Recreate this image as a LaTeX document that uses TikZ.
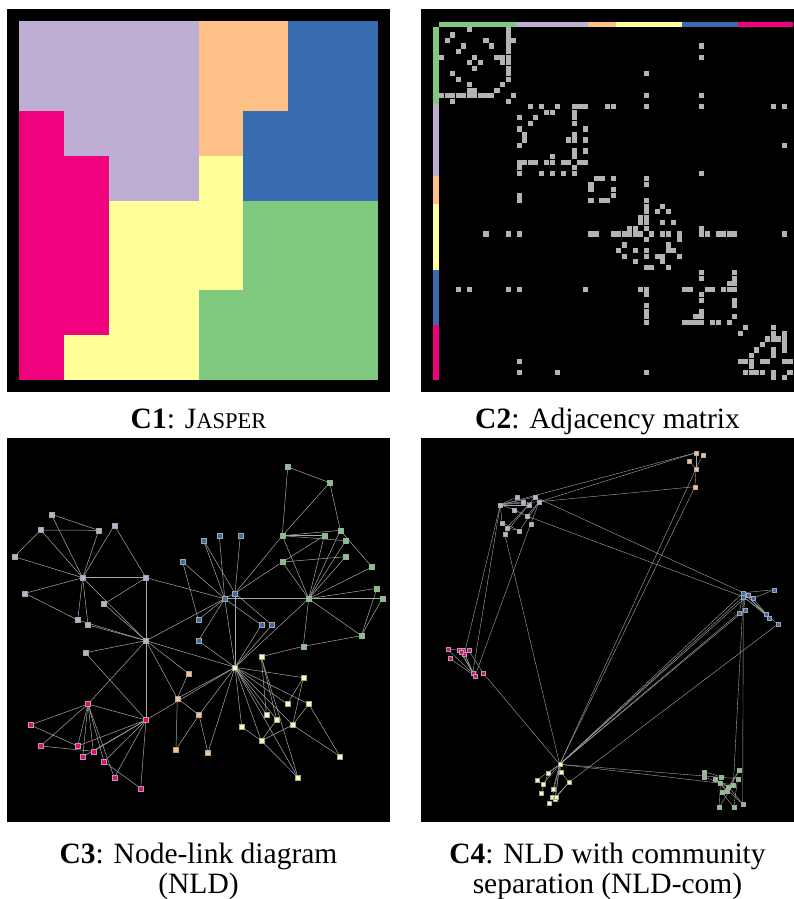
\documentclass[tikz,border=0pt]{standalone}
\usepackage{fontspec}
\setmainfont{Liberation Serif}
\pgfdeclarelayer{back}
\pgfdeclarelayer{edges}
\pgfsetlayers{back,edges,main}
\definecolor{cgreen}{HTML}{7FC97F}
\definecolor{clav}{HTML}{BEAED4}
\definecolor{corange}{HTML}{FDC086}
\definecolor{cyellow}{HTML}{FFFF99}
\definecolor{cblue}{HTML}{386CB0}
\definecolor{cmag}{HTML}{F0027F}
\definecolor{cmat}{HTML}{B3B3B3}
\definecolor{cedge}{HTML}{A8A8A8}
\newcommand{\capfont}{\fontsize{29.5}{30}\selectfont}
\begin{document}
\begin{tikzpicture}[x=1pt,y=-1pt,
  panel/.style={fill=black},
  nd/.style={rectangle,minimum size=5pt,inner sep=0pt,draw=black!35,line width=0.2pt},
  ndd/.style={rectangle,minimum size=4pt,inner sep=0pt,draw=black!35,line width=0.15pt},
  ethree/.style={draw=cedge,line width=0.5pt},
  efour/.style={draw=cedge,line width=0.4pt},
  captext/.style={anchor=base,align=center,font=\capfont,inner sep=0pt}]
\useasboundingbox (0,0) rectangle (794,899);
\begin{pgfonlayer}{back}
\fill[white] (0,0) rectangle (794,899);
% ---------- C1 ----------
\fill[panel] (7,9) rectangle (390,392);
\fill[clav] (19.3,21.3) rectangle (198.5,110.9);
\fill[clav] (64.1,110.9) rectangle (198.5,155.7);
\fill[clav] (108.9,155.7) rectangle (198.5,200.5);
\fill[corange] (198.5,21.3) rectangle (288.1,110.9);
\fill[corange] (198.5,110.9) rectangle (243.3,155.7);
\fill[cblue] (288.1,21.3) rectangle (377.7,110.9);
\fill[cblue] (243.3,110.9) rectangle (377.7,200.5);
\fill[cmag] (19.3,110.9) rectangle (64.1,155.7);
\fill[cmag] (19.3,155.7) rectangle (108.9,334.9);
\fill[cmag] (19.3,334.9) rectangle (64.1,379.7);
\fill[cyellow] (198.5,155.7) rectangle (243.3,200.5);
\fill[cyellow] (108.9,200.5) rectangle (243.3,290.1);
\fill[cyellow] (108.9,290.1) rectangle (198.5,334.9);
\fill[cyellow] (64.1,334.9) rectangle (198.5,379.7);
\fill[cgreen] (243.3,200.5) rectangle (377.7,290.1);
\fill[cgreen] (198.5,290.1) rectangle (377.7,379.7);
% ---------- C2 ----------
\fill[panel] (421,9) rectangle (794,392);
\fill[cgreen] (439,21.7) rectangle (516.4,26.7);
\fill[clav] (516.4,21.7) rectangle (588.2,26.7);
\fill[corange] (588.2,21.7) rectangle (615.9,26.7);
\fill[cyellow] (615.9,21.7) rectangle (682.2,26.7);
\fill[cblue] (682.2,21.7) rectangle (737.5,26.7);
\fill[cmag] (737.5,21.7) rectangle (792.7,26.7);
\fill[cgreen] (433.3,26.7) rectangle (439,104.1);
\fill[clav] (433.3,104.1) rectangle (439,175.9);
\fill[corange] (433.3,175.9) rectangle (439,203.6);
\fill[cyellow] (433.3,203.6) rectangle (439,269.9);
\fill[cblue] (433.3,269.9) rectangle (439,325.2);
\fill[cmag] (433.3,325.2) rectangle (439,380.4);
\foreach \i/\j in {0/5,1/2,2/8,3/9,3/4,5/6,6/7,0/12,1/12,2/12,3/12,4/12,5/12,6/12,7/12,8/12,9/12,2/13,12/13,5/10,5/11,6/11,10/11,
 3/47,5/47,8/37,12/37,12/47,
 14/16,14/18,14/21,14/24,14/25,14/26,15/19,15/20,15/24,16/17,16/24,17/24,18/26,19/24,20/23,20/24,20/26,22/24,22/26,23/24,24/25,24/26,
 14/30,14/31,14/37,14/47,14/60,14/62,21/62,26/47,
 27/28,27/29,27/31,29/31,30/31,27/37,28/37,31/37,
 32/37,32/40,33/37,33/39,33/41,34/36,34/37,35/36,35/37,35/40,35/42,36/37,37/38,37/40,37/41,37/43,38/43,39/41,40/41,40/42,41/43,
 36/47,37/47,37/48,37/50,37/51,37/52,37/53,37/62,
 44/47,44/53,45/47,45/53,46/52,46/53,47/48,47/49,47/51,47/52,47/53,49/53,50/53,52/53,
 54/55,54/60,55/60,55/62,56/59,56/60,56/61,56/62,57/58,57/62,58/60,58/62,59/60,60/62,60/63,62/63}{
  \fill[cmat] (439.2+5.527*\j,26.9+5.527*\i) rectangle ++(5.13,5.13);
  \fill[cmat] (439.2+5.527*\i,26.9+5.527*\j) rectangle ++(5.13,5.13);
}
% ---------- C3 / C4 panels ----------
\fill[panel] (7,438) rectangle (390,822);
\fill[panel] (421,438) rectangle (794,822);
\end{pgfonlayer}
% ---------- C3 nodes ----------
\foreach \n/\x/\y in {G1/287.7/467,G2/329.7/482.7,G3/282.3/535.7,G4/340.3/530.3,G5/324.3/535.7,G6/345.7/540.7,G7/282.3/562,G8/345.7/556.7,G9/372/567,G10/308.7/598.7,G11/377/588.3,G12/382.3/598.7,G13/361.3/635.7,G14/303.3/646.3}
  \node[nd,fill=cgreen] (\n) at (\x,\y) {};
\foreach \n/\x/\y in {L1/51.3/514.3,L2/40.7/530,L3/98.7/530.3,L4/114.3/525.3,L5/14.3/556.7,L6/82.7/577.7,L7/146/577.7,L8/25/593.3,L9/104/604,L10/77.7/620,L11/88/625,L12/146/640.7,L13/85.3/652.7}
  \node[nd,fill=clav] (\n) at (\x,\y) {};
\foreach \n/\x/\y in {O1/188.3/673.3,O2/177.3/698.3,O3/199/715,O4/176/749.3,O5/208/752.7}
  \node[nd,fill=corange] (\n) at (\x,\y) {};
\foreach \n/\x/\y in {Y1/235/667.3,Y2/261.3/656.7,Y3/303.3/677.7,Y4/287.3/704,Y5/308.7/704,Y6/266.3/714.3,Y7/276.7/719.7,Y8/292.7/725,Y9/241.7/726.7,Y10/261.3/740.7,Y11/340/756.3,Y12/298/777.7}
  \node[nd,fill=cyellow] (\n) at (\x,\y) {};
\foreach \n/\x/\y in {B1/203.7/540.7,B2/219.3/535.7,B3/240.3/535.7,B4/182.7/562,B5/224.7/598.7,B6/235/593.3,B7/198.3/619.7,B8/261.3/625,B9/272/625,B10/198.3/640.7}
  \node[nd,fill=cblue] (\n) at (\x,\y) {};
\foreach \n/\x/\y in {M1/88/704,M2/146/720,M3/30.3/725,M4/40.7/746,M5/77.7/746,M6/93.3/751.3,M7/82.7/756.7,M8/104/761.7,M9/114.3/777.7,M10/140.7/788.3}
  \node[nd,fill=cmag] (\n) at (\x,\y) {};
\begin{pgfonlayer}{edges}
\foreach \a/\b in {G1/G2,G1/G3,G2/G3,G2/G4,G3/G4,G3/G5,G3/G6,G3/G10,G3/B6,G4/G9,G4/G10,G5/G7,G5/G10,G6/G10,G7/G8,G7/G10,G7/B6,G8/G10,G9/G10,G11/G10,G10/G12,G11/G13,G12/G13,G13/G10,G13/G14,G14/G10,G10/B5,G10/Y1,G14/Y2,
 L1/L3,L1/L6,L2/L3,L2/L5,L2/L6,L3/L6,L4/L6,L4/L7,L5/L6,L6/L7,L6/L8,L6/L10,L6/L11,L6/L12,L7/L9,L7/L12,L7/B5,L8/L10,L9/L12,L10/L12,L11/L12,L12/L13,L13/M2,L12/B5,L12/Y1,L12/O1,L12/O2,L12/M1,L12/M2,
 O1/O2,O2/O3,O2/O4,O3/O4,O3/O5,O2/Y1,O3/Y1,O5/Y1,
 Y1/Y3,Y1/Y4,Y1/Y5,Y1/Y6,Y1/Y7,Y1/Y8,Y1/Y9,Y1/Y10,Y1/Y12,Y2/Y6,Y2/Y7,Y2/Y12,Y3/Y4,Y3/Y8,Y5/Y8,Y5/Y11,Y8/Y10,Y8/Y11,Y9/Y10,Y10/Y12,Y7/Y10,Y1/M2,
 B1/B5,B1/B6,B2/B5,B3/B6,B4/B5,B4/B7,B5/B6,B5/B7,B5/B10,B5/B8,B6/B9,B5/Y1,B6/Y1,B8/Y1,B9/Y1,B10/Y1,
 M1/M3,M1/M4,M1/M5,M1/M6,M1/M7,M1/M8,M1/M9,M1/M2,M2/M5,M2/M6,M2/M7,M2/M8,M2/M9,M2/M10,M3/M5,M4/M6,M8/M10}
  \draw[ethree] (\a) -- (\b);
\end{pgfonlayer}
% ---------- C4 nodes ----------
\foreach \n/\x/\y in {dO1/696/452.7,dO2/703/454.7,dO3/688.7/460.7,dO4/696/468.7,dO5/695/486.7}
  \node[ndd,fill=corange] (\n) at (\x,\y) {};
\foreach \n/\x/\y in {dL1/500.3/504.7,dL2/516.7/497,dL3/535/497,dL4/539.3/501.7,dL5/528.7/504.7,dL6/514/509.7,dL7/526.7/516,dL8/502/522.7,dL9/530.7/523.7,dL10/506.7/527.7,dL11/519.3/530.7,dL12/504.7/534,dL13/523.3/501.7}
  \node[ndd,fill=clav] (\n) at (\x,\y) {};
\foreach \n/\x/\y in {dB1/743.3/592.7,dB2/743.3/596.7,dB3/753.3/598.3,dB4/774/589.7,dB5/745.3/609.7,dB6/739.3/612.7,dB7/765.7/614,dB8/769.3/618,dB9/777.7/624.3,dB10/748.3/595}
  \node[ndd,fill=cblue] (\n) at (\x,\y) {};
\foreach \n/\x/\y in {dM1/447.7/649.3,dM2/459.3/650.3,dM3/463.3/650.3,dM4/468.7/650.3,dM5/464.3/654,dM6/449.7/658.3,dM7/472.7/673.3,dM8/475/676,dM9/483.3/673.3,dM10/461.3/652}
  \node[ndd,fill=cmag] (\n) at (\x,\y) {};
\foreach \n/\x/\y in {dY1/559.7/764.3,dY2/548.3/773.3,dY3/560.7/771.7,dY4/537.3/779.7,dY5/569/782.3,dY6/542.7/784.3,dY7/553/789.3,dY8/541/793.3,dY9/552.3/796.7,dY10/555/799,dY11/548.7/802.7,dY12/555.7/796.7}
  \node[ndd,fill=cyellow] (\n) at (\x,\y) {};
\foreach \n/\x/\y in {dG1/704/771.7,dG2/704/776.7,dG3/715/778.7,dG4/720.7/776.7,dG5/739.3/770.3,dG6/737.7/778.7,dG7/720/783.3,dG8/733.3/784.7,dG9/728.3/786.7,dG10/721.7/791.7,dG11/727.3/791.3,dG12/719.3/806.7,dG13/733.7/807.3,dG14/742.7/804}
  \node[ndd,fill=cgreen] (\n) at (\x,\y) {};
\begin{pgfonlayer}{edges}
\foreach \a/\b in {dL1/dO1,dL4/dO1,dL4/dO5,dO4/dY1,dO5/dY1,dL3/dB1,dL7/dB2,dL1/dM5,dL1/dM7,dL9/dM8,dL12/dY1,dM9/dY1,dY1/dB1,dY1/dB2,dY1/dB6,dY1/dB5,dY1/dB10,dY5/dB9,dY1/dG6,dY1/dG8,dB2/dG8,dB1/dG14,
 dO1/dO4,dO2/dO4,dO3/dO4,dO4/dO5,
 dL1/dL2,dL1/dL3,dL1/dL4,dL1/dL5,dL1/dL6,dL1/dL8,dL4/dL7,dL4/dL9,dL4/dL11,dL5/dL10,dL3/dL12,dL8/dL11,dL10/dL11,dL6/dL7,dL1/dL13,
 dB1/dB3,dB1/dB4,dB3/dB4,dB1/dB7,dB1/dB8,dB2/dB8,dB3/dB8,dB5/dB1,dB6/dB1,dB1/dB9,dB2/dB7,
 dM1/dM3,dM1/dM7,dM6/dM8,dM2/dM8,dM3/dM7,dM4/dM9,dM5/dM8,dM10/dM7,
 dY1/dY2,dY1/dY3,dY1/dY4,dY1/dY6,dY1/dY7,dY1/dY9,dY1/dY10,dY1/dY12,dY3/dY5,dY4/dY6,dY2/dY8,dY5/dY10,dY12/dY5,
 dG1/dG4,dG2/dG9,dG3/dG9,dG4/dG12,dG5/dG9,dG6/dG13,dG7/dG14,dG8/dG12,dG9/dG14,dG10/dG13,dG11/dG5,dG3/dG11,dG8/dG10}
  \draw[efour] (\a) -- (\b);
\end{pgfonlayer}
% ---------- captions ----------
\node[captext] (cap1) at (198.5,428) {\textbf{C1}: J{\fontsize{22.5}{22.5}\selectfont ASPER}};
\node[captext] (cap2) at (607.5,428) {\textbf{C2}: Adjacency matrix};
\node[captext] (cap3) at (198.5,893) {\textbf{C3}: Node-link diagram\\(NLD)};
\node[captext] (cap4) at (607.5,893) {\textbf{C4}: NLD with community\\separation (NLD-com)};
\end{tikzpicture}
\end{document}
